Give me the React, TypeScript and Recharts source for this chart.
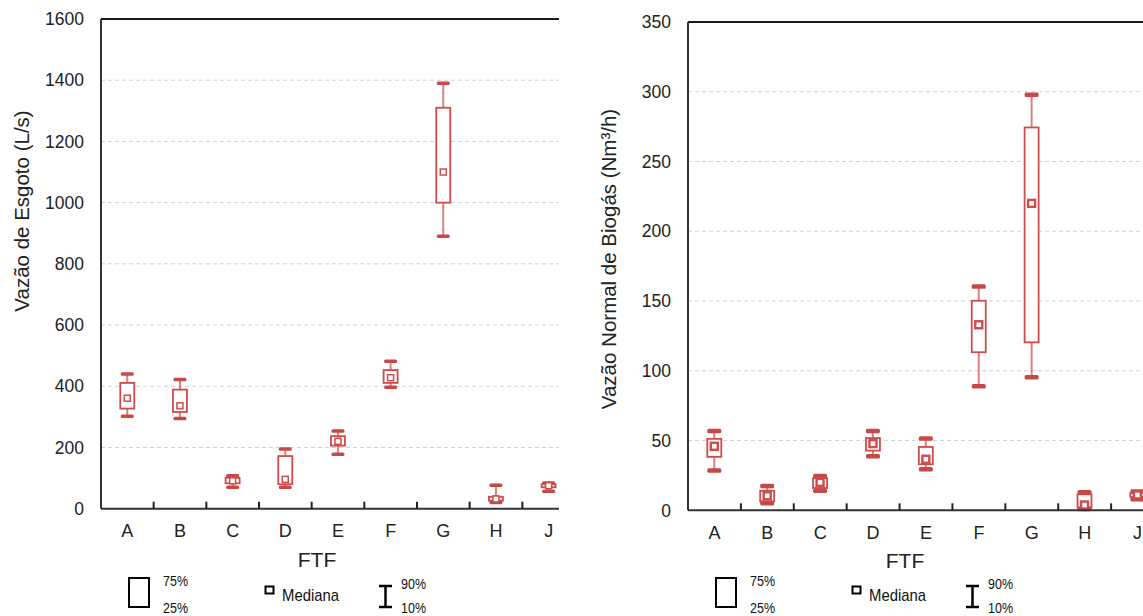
import React from 'react';
import { ComposedChart, Bar, XAxis, YAxis, CartesianGrid, ReferenceLine, Label } from 'recharts';

const categories = ['A', 'B', 'C', 'D', 'E', 'F', 'G', 'H', 'J'];

// Vazão de Esgoto (L/s) — percentis 10, 25, mediana, 75, 90
const esgotoP10 = [302, 295, 70, 70, 178, 397, 890, 20, 57];
const esgotoQ1 = [327, 316, 83, 80, 206, 411, 1000, 26, 70];
const esgotoMed = [361, 336, 91, 96, 220, 428, 1100, 32, 75];
const esgotoQ3 = [411, 389, 101, 172, 237, 453, 1310, 39, 80];
const esgotoP90 = [440, 422, 108, 195, 254, 482, 1390, 77, 84];
const esgotoTicks = [0, 200, 400, 600, 800, 1000, 1200, 1400, 1600];

// Vazão Normal de Biogás (Nm³/h)
const biogasP10 = [28.6, 5, 14, 38.8, 29.5, 89, 95.4, 1, 8];
const biogasQ1 = [38.3, 6.5, 16, 42.8, 33, 113.3, 120.4, 2, 9.5];
const biogasMed = [45.9, 10.4, 20, 47.8, 36.6, 133, 220, 3.8, 11];
const biogasQ3 = [51.2, 14, 23, 51.8, 45.4, 150.2, 274.4, 11.5, 12.5];
const biogasP90 = [56.9, 17.5, 24.5, 56.9, 51.4, 160.4, 297.8, 13, 13.5];
const biogasTicks = [0, 50, 100, 150, 200, 250, 300, 350];

const FONT = "'Liberation Sans', Arial, sans-serif";
const NARROW = "'Liberation Sans Narrow', 'Arial Narrow', 'Liberation Sans', Arial, sans-serif";
const RED = '#cf4c4c';
const CAP = '#c84848';
const WHISK = '#dc8080';
const AXIS_W = 101;
const TICK_GAP = 16; // tickSize 6 + tickMargin 10

type Row = { cat: string; p10: number; q1: number; med: number; q3: number; p90: number };

function buildRows(p10: number[], q1: number[], med: number[], q3: number[], p90: number[]): Row[] {
  return categories.map((cat, i) => ({ cat, p10: p10[i], q1: q1[i], med: med[i], q3: q3[i], p90: p90[i] }));
}

type BoxStyle = { boxW: number; capW: number; capH: number; medS: number; medW: number };

function makeBoxShape(st: BoxStyle) {
  return (props: any) => {
    const { x, y, width, height, payload } = props;
    if (!payload || !isFinite(y) || !isFinite(height)) return <g />;
    const { p10, q1, med, q3, p90 } = payload as Row;
    const span = p90 - p10 || 1;
    const py = (v: number) => y + ((p90 - v) / span) * height;
    const cx = x + width / 2;
    const bx = cx - st.boxW / 2;
    return (
      <g>
        <line x1={cx} x2={cx} y1={py(p90)} y2={py(q3)} stroke={WHISK} strokeWidth={2} />
        <line x1={cx} x2={cx} y1={py(q1)} y2={py(p10)} stroke={WHISK} strokeWidth={2} />
        <rect x={bx} y={py(q3)} width={st.boxW} height={Math.max(py(q1) - py(q3), 1)} fill="#fff" stroke={RED} strokeWidth={1.8} />
        <rect x={cx - st.capW / 2} y={py(p90) - st.capH / 2} width={st.capW} height={st.capH} rx={1.5} fill={CAP} />
        <rect x={cx - st.capW / 2} y={py(p10) - st.capH / 2} width={st.capW} height={st.capH} rx={1.5} fill={CAP} />
        <rect x={cx - st.medS / 2} y={py(med) - st.medS / 2} width={st.medS} height={st.medS} fill="#fff" stroke={RED} strokeWidth={st.medW} />
      </g>
    );
  };
}

// category label plus a short inward tick at the left edge of each band (except the first)
function makeCatTick(band: number) {
  return (props: any) => {
    const { x, y, payload } = props;
    const half = payload && payload.offset ? payload.offset : band / 2;
    const axisY = y - TICK_GAP;
    const idx = payload ? payload.index : 0;
    return (
      <g>
        {idx > 0 && (
          <line x1={x - half} x2={x - half} y1={axisY} y2={axisY - 7} stroke="#222" strokeWidth={2} />
        )}
        <text x={x} y={y} dy="0.71em" textAnchor="middle" fill="#222" fontSize={18} fontFamily={FONT}>
          {payload ? payload.value : ''}
        </text>
      </g>
    );
  };
}

function LegendKey() {
  const t = { fontFamily: NARROW, fill: '#111', lengthAdjust: 'spacingAndGlyphs' as const };
  return (
    <svg width={560} height={46} style={{ position: 'absolute', left: 0, top: 570 }}>
      <rect x={129} y={8} width={20} height={29} fill="none" stroke="#000" strokeWidth={2} />
      <text x={163} y={16} fontSize={15} textLength={25} {...t}>75%</text>
      <text x={163} y={43} fontSize={15} textLength={25} {...t}>25%</text>
      <rect x={265.5} y={16.5} width={8} height={7} fill="#fff" stroke="#000" strokeWidth={2} />
      <text x={282} y={31} fontSize={17} textLength={57} {...t}>Mediana</text>
      <line x1={385.5} x2={385.5} y1={16} y2={37} stroke="#000" strokeWidth={2.5} />
      <line x1={379} x2={392} y1={16} y2={16} stroke="#000" strokeWidth={2.5} />
      <line x1={379} x2={392} y1={37} y2={37} stroke="#000" strokeWidth={2.5} />
      <text x={401} y={19} fontSize={15} textLength={25} {...t}>90%</text>
      <text x={401} y={43} fontSize={15} textLength={25} {...t}>10%</text>
    </svg>
  );
}

function BoxChart({
  rows, ticks, max, yLabel, labelCy, left, clipW, chartW, top, bottom, box,
}: {
  rows: Row[];
  ticks: number[];
  max: number;
  yLabel: string;
  labelCy: number;
  left: number;
  clipW: number;
  chartW: number;
  top: number;
  bottom: number;
  box: BoxStyle;
}) {
  const tickStyle = { fill: '#222', fontSize: 17.5, fontFamily: FONT };
  const band = (chartW - AXIS_W) / categories.length;
  return (
    <div style={{ position: 'absolute', left, top: 0, width: clipW, height: 616, overflow: 'hidden' }}>
      <ComposedChart width={chartW} height={616} data={rows} margin={{ top, right: 0, left: 0, bottom }}>
        <CartesianGrid vertical={false} stroke="#d2d2d2" strokeDasharray="4 3" />
        <YAxis
          type="number"
          domain={[0, max]}
          ticks={ticks}
          interval={0}
          width={AXIS_W}
          tickLine={false}
          tickMargin={11}
          axisLine={{ stroke: '#333', strokeWidth: 2 }}
          tick={tickStyle}
        >
          <Label
            content={(p: any) => {
              const vb = p.viewBox || { x: 0, width: AXIS_W };
              const cx = vb.x + vb.width - 80;
              return (
                <text x={cx} y={labelCy} transform={`rotate(-90, ${cx}, ${labelCy})`} textAnchor="middle"
                  dominantBaseline="central" fontFamily={FONT} fontSize={20.5} fill="#222">
                  {yLabel}
                </text>
              );
            }}
          />
        </YAxis>
        <XAxis
          dataKey="cat"
          interval={0}
          height={60}
          tickLine={false}
          tickSize={6}
          tickMargin={10}
          axisLine={{ stroke: '#333', strokeWidth: 2 }}
          tick={makeCatTick(band)}
        >
          <Label
            content={(p: any) => {
              const vb = p.viewBox || { x: 0, y: 0, width: 0 };
              return (
                <text x={vb.x + vb.width / 2 - 21} y={vb.y + 58} textAnchor="middle"
                  fontFamily={FONT} fontSize={21} fill="#222">FTF</text>
              );
            }}
          />
        </XAxis>
        <ReferenceLine y={max} stroke="#1a1a1a" strokeWidth={2} />
        <Bar
          dataKey={(d: Row) => [d.p10, d.p90]}
          isAnimationActive={false}
          shape={makeBoxShape(box)}
        />
      </ComposedChart>
      <LegendKey />
    </div>
  );
}

export default function App() {
  const esgotoRows = buildRows(esgotoP10, esgotoQ1, esgotoMed, esgotoQ3, esgotoP90);
  const biogasRows = buildRows(biogasP10, biogasQ1, biogasMed, biogasQ3, biogasP90);
  return (
    <div style={{ position: 'absolute', left: 0, top: 0, width: 1143, height: 616, overflow: 'hidden', background: '#fff' }}>
      <BoxChart
        rows={esgotoRows} ticks={esgotoTicks} max={1600}
        yLabel="Vazão de Esgoto (L/s)" labelCy={211}
        left={0} clipW={559} chartW={575} top={19} bottom={47.3}
        box={{ boxW: 14, capW: 13, capH: 3.5, medS: 6, medW: 1.5 }}
      />
      <BoxChart
        rows={biogasRows} ticks={biogasTicks} max={350}
        yLabel="Vazão Normal de Biogás (Nm³/h)" labelCy={259}
        left={587} clipW={556} chartW={577} top={22} bottom={45.7}
        box={{ boxW: 14, capW: 14, capH: 4.5, medS: 7, medW: 2.4 }}
      />
    </div>
  );
}
